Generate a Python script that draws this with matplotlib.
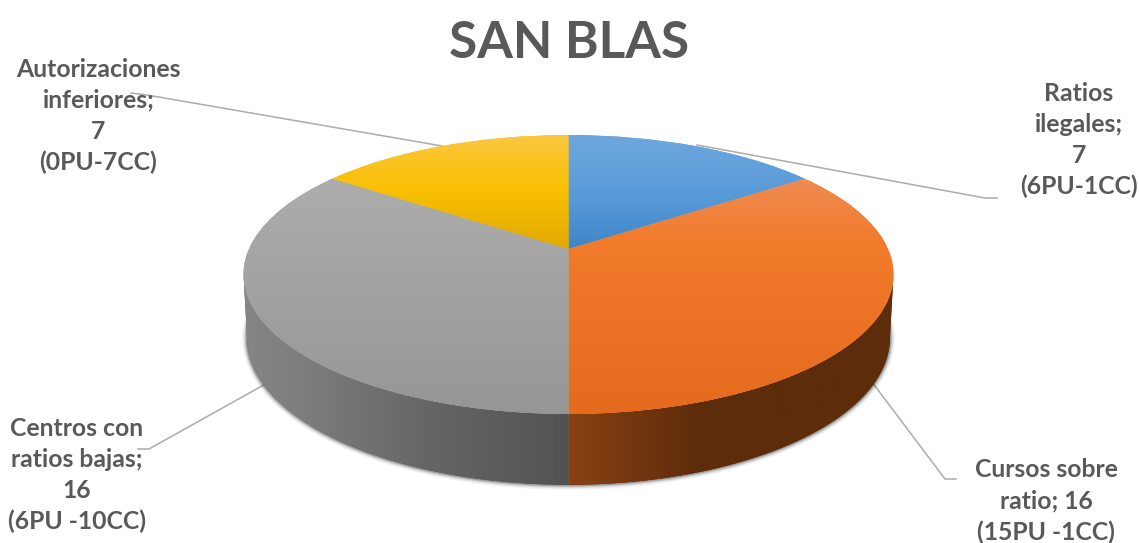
import numpy as np
import matplotlib
matplotlib.use("Agg")
import matplotlib.pyplot as plt
from matplotlib.colors import to_rgb
from matplotlib.patches import Polygon
from matplotlib.transforms import Transform

# ---------- data ----------
categories = ["Ratios ilegales", "Cursos sobre ratio", "Centros con ratios bajas", "Autorizaciones inferiores"]
values = [7, 16, 16, 7]
labels = ["Ratios\nilegales;\n7\n(6PU-1CC)",
          "Cursos sobre\nratio; 16\n(15PU -1CC)",
          "Centros con\nratios bajas;\n16\n(6PU -10CC)",
          "Autorizaciones\ninferiores;\n7\n(0PU-7CC)"]
title = "SAN BLAS"

# ---------- style ----------
W, H = 1139, 543
TXT = "#595959"
LINE = "#ABABAB"
FONT = "Lato"
CX, CY = 568.5, 249.0
RX, RY, K = 319.5, 134.8, 0.183
DEPTH = 62.0
RX_LOW = 316.0
RY_LOW = 142.0

top_grad = [
    ([135, 200, 249], ["#6FA7DD", "#5599D8", "#3F85C6"]),
    ([178, 240, 414], ["#EE8C54", "#F37B2C", "#E46A1E"]),
    ([180, 414], ["#ADADAD", "#969696"]),
    ([135, 190, 249], ["#FBC740", "#F9C000", "#E0AA00"]),
]
side_grad = {
    1: ([568, 625, 700, 890], ["#8A4112", "#773810", "#5C2C0B", "#5C2C0B"]),
    2: ([247, 300, 420, 568], ["#858585", "#7E7E7E", "#676767", "#525252"]),
}
label_pos = [(1079, 140), (1046, 501), (77, 475.5), (98.5, 116)]
leaders = [
    ([697, 985, 997], [145, 198, 198]),
    ([872, 945, 956], [382, 479, 479]),
    ([269, 149, 138], [382, 449, 449]),
    ([442, 147, 131], [146, 95, 93]),
]


def project(pts, rx=RX, ry=RY, dy=0.0):
    pts = np.asarray(pts, float)
    x, y = pts[:, 0], pts[:, 1]
    d = 1 + K * y
    return np.column_stack([CX + rx * x / d, CY + dy - ry * y / d])


class Perspective(Transform):
    input_dims = output_dims = 2
    is_separable = False
    has_inverse = False

    def transform_non_affine(self, values):
        return project(values)


def rim(a0, a1, rx=RX, ry=RY, dy=0.0, n=200):
    """Clockwise angles measured from the top of the pie, in degrees."""
    a = np.radians(np.linspace(a0, a1, n))
    return project(np.column_stack([np.sin(a), np.cos(a)]), rx, ry, dy)


def hex_stops(stops):
    return np.array([to_rgb(c) for c in stops])


def gradient(ax, clip, x0, x1, y0, y1, pos, cols, horizontal=False, z=3):
    rgb = hex_stops(cols)
    if horizontal:
        t = np.linspace(x0, x1, 700)
        arr = np.stack([np.interp(t, pos, rgb[:, i]) for i in range(3)], -1)[None, :, :]
    else:
        t = np.linspace(y0, y1, 500)
        arr = np.stack([np.interp(t, pos, rgb[:, i]) for i in range(3)], -1)[:, None, :]
    im = ax.imshow(arr, extent=(x0, x1, y1, y0), aspect="auto", zorder=z, interpolation="bilinear")
    im.set_clip_path(clip)


fig = plt.figure(figsize=(W / 100, H / 100), dpi=100)
ax = fig.add_axes([0, 0, 1, 1])

wedges, _ = ax.pie(values, startangle=90, counterclock=False, radius=1, frame=True,
                   colors=[g[1][1] for g in top_grad], wedgeprops=dict(linewidth=0))
persp = Perspective() + ax.transData
for w, (pos, cols) in zip(wedges, top_grad):
    w.set_transform(persp)
    w.set_zorder(4)
    gradient(ax, w, 240, 896, 130, 418, pos, cols, z=5)

# side wall
bounds = np.cumsum(values) / np.sum(values) * 360.0
widest = 90 + np.degrees(np.arcsin(K))
for idx, (a0, a1) in {1: (widest, bounds[1]), 2: (bounds[1], 360 - widest)}.items():
    poly = np.vstack([rim(a0, a1), rim(a1, a0, RX_LOW, RY_LOW, DEPTH)])
    p = Polygon(poly, closed=True, facecolor=side_grad[idx][1][-1], edgecolor="none", zorder=2)
    ax.add_patch(p)
    pos, cols = side_grad[idx]
    gradient(ax, p, 240, 896, 130, 500, pos, cols, horizontal=True, z=2.5)

# soft shadow under the wall
low = rim(84, 276, RX_LOW, RY_LOW, DEPTH, n=400)
for lw, alpha in [(7, 0.06), (5, 0.10), (3.4, 0.16), (2, 0.25)]:
    ax.plot(low[:, 0], low[:, 1], color="#303030", lw=lw, alpha=alpha, zorder=1.5, solid_capstyle="round")

# leader lines
for xs, ys in leaders:
    ax.plot(xs, ys, color=LINE, lw=1.1, zorder=1)

# labels
for (x, y), s in zip(label_pos, labels):
    ax.text(x, y, s, ha="center", va="center", ma="center", fontsize=17.8, fontweight="bold",
            family=FONT, color=TXT, linespacing=1.41, zorder=6)
ax.text(569.5, 44, title, ha="center", va="center", fontsize=37, fontweight="bold",
        family=FONT, color=TXT, zorder=6)

ax.set_xlim(0, W)
ax.set_ylim(H, 0)
ax.set_aspect("auto")
ax.axis("off")
fig.savefig("out.png", dpi=100, facecolor="white")
